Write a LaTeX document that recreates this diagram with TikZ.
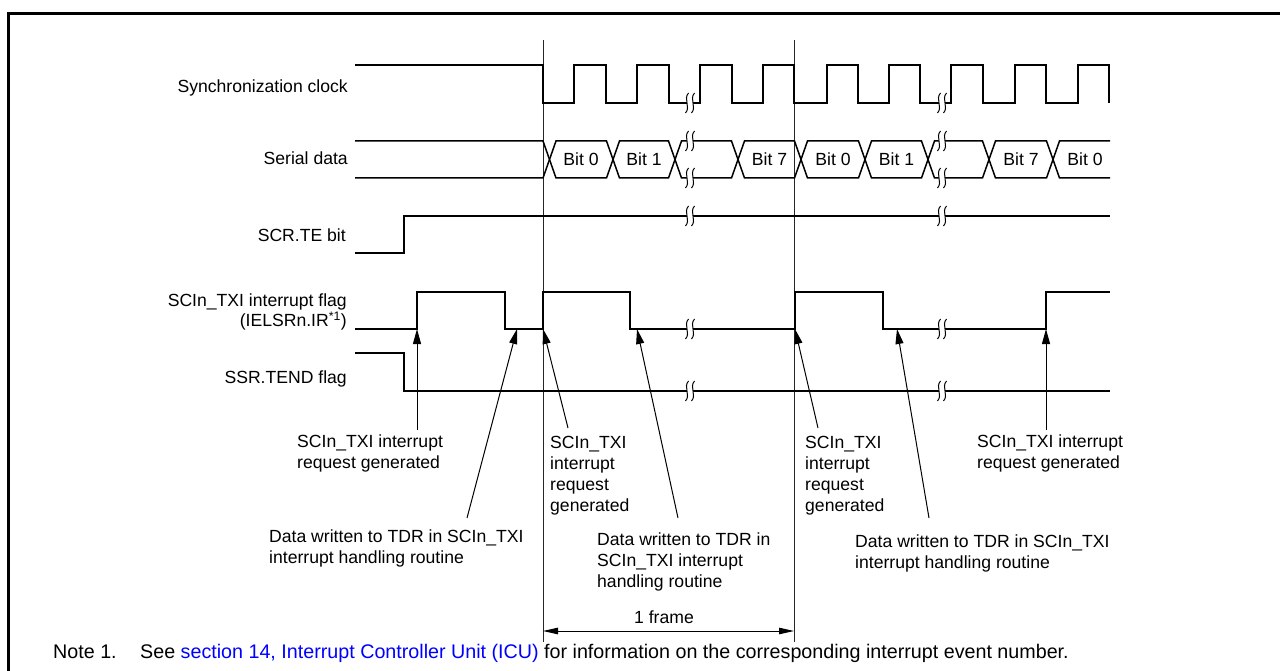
\documentclass[tikz,border=0pt]{standalone}
\usepackage{fontspec}
\setmainfont{Liberation Sans}
\usetikzlibrary{arrows.meta}
\begin{document}
\begin{tikzpicture}[x=1pt,y=-1pt,
  font=\fontsize{17.6}{21}\selectfont,
  sig/.style={line width=1.5pt, line join=miter},
  guide/.style={line width=1pt, black!85},
  arr/.style={line width=1pt, -{Triangle[length=15pt,width=8pt]}},
  frm/.style={line width=1pt, {Triangle[length=15pt,width=6.5pt]}-{Triangle[length=15pt,width=6.5pt]}},
  lbl/.style={inner sep=0pt},
  notefont/.style={font=\fontsize{19.7}{24}\selectfont},
  brk/.pic={
    \fill[white] (-1.5,-10) .. controls (-7,-4) and (1,4) .. (-4.5,10) -- (1.5,10) .. controls (7,4) and (-1,-4) .. (4.5,-10) -- cycle;
    \draw[line width=1pt] (-1.5,-10) .. controls (-7,-4) and (1,4) .. (-4.5,10);
    \draw[line width=1pt] (4.5,-10) .. controls (-1,-4) and (7,4) .. (1.5,10);
  }]
\useasboundingbox (0,0) rectangle (1280,671);
% frame
\draw[line width=3pt] (8.7,671) -- (8.7,13.7) -- (1280,13.7);

% frame guide lines
\coordinate (g1t) at (543,40);
\coordinate (g1b) at (543,642);
\coordinate (g2t) at (794,40);
\coordinate (g2b) at (794,642);
\draw[guide] (g1t) -- (g1b);
\draw[guide] (g2t) -- (g2b);

% left labels
\node[lbl, anchor=base east] (lclk) at (348,93) {Synchronization clock};
\node[lbl, anchor=base east] (ldata) at (348,165) {Serial data};
\node[lbl, anchor=base east] (lte) at (346,242) {SCR.TE bit};
\node[lbl, anchor=north east, align=right] (ltxi) at (347,294) {SCIn\_TXI interrupt flag\\[-1pt](IELSRn.IR\textsuperscript{*1})};
\node[lbl, anchor=base east] (ltend) at (347,383) {SSR.TEND flag};

% synchronization clock
\draw[sig] (355,65) -- (543,65) -- (543,103) -- (574,103) -- (574,65) -- (606,65) -- (606,103)
  -- (637,103) -- (637,65) -- (669,65) -- (669,103) -- (700,103) -- (700,65) -- (732,65)
  -- (732,103) -- (763,103) -- (763,65) -- (794,65) -- (794,103) -- (827,103) -- (827,65)
  -- (858,65) -- (858,103) -- (889,103) -- (889,65) -- (920,65) -- (920,103) -- (951,103)
  -- (951,65) -- (983,65) -- (983,103) -- (1015,103) -- (1015,65) -- (1046,65) -- (1046,103)
  -- (1078,103) -- (1078,65) -- (1109,65) -- (1109,103);
\pic at (690,103) {brk};
\pic at (942,103) {brk};

% serial data
\def\T{141}\def\B{178}\def\M{159.5}\def\h{6.5}
\draw[sig] (355,\T) -- (543,\T) -- (549.5,\M) -- (543,\B) -- (355,\B);
\foreach \a/\b in {549.5/613, 613/675, 675/738, 738/801, 801/865, 865/928, 928/989, 989/1053}{
  \draw[sig] (\a,\M) -- (\a+\h,\T) -- (\b-\h,\T) -- (\b,\M) -- (\b-\h,\B) -- (\a+\h,\B) -- cycle;
}
\draw[sig] (1110,\T) -- (1059.5,\T) -- (1053,\M) -- (1059.5,\B) -- (1110,\B);
\pic at (690,\T) {brk};
\pic at (690,\B) {brk};
\pic at (942,\T) {brk};
\pic at (942,\B) {brk};
\node[lbl, anchor=base] (b1) at (581,166) {Bit 0};
\node[lbl, anchor=base] (b2) at (644,166) {Bit 1};
\node[lbl, anchor=base] (b3) at (769.5,166) {Bit 7};
\node[lbl, anchor=base] (b4) at (833,166) {Bit 0};
\node[lbl, anchor=base] (b5) at (896.5,166) {Bit 1};
\node[lbl, anchor=base] (b6) at (1021,166) {Bit 7};
\node[lbl, anchor=base] (b7) at (1085,166) {Bit 0};

% SCR.TE
\draw[sig] (355,253) -- (404,253) -- (404,216) -- (1110,216);
\pic at (690,216) {brk};
\pic at (942,216) {brk};

% TXI flag
\draw[sig] (355,329) -- (417,329) -- (417,292) -- (505,292) -- (505,329) -- (543,329) -- (543,292)
  -- (630,292) -- (630,329) -- (795,329) -- (795,292) -- (883,292) -- (883,329) -- (1046,329)
  -- (1046,292) -- (1110,292);
\pic at (690,329) {brk};
\pic at (942,329) {brk};

% TEND
\draw[sig] (355,353) -- (404,353) -- (404,391) -- (1110,391);
\pic at (690,391) {brk};
\pic at (942,391) {brk};

% annotations
\node[lbl, anchor=north west, align=left] (a1) at (297,434.5) {SCIn\_TXI interrupt\\request generated};
\node[lbl, anchor=north west, align=left] (a2) at (269,529.5) {Data written to TDR in SCIn\_TXI\\interrupt handling routine};
\node[lbl, anchor=north west, align=left] (a3) at (550,436.5) {SCIn\_TXI\\interrupt\\request\\generated};
\node[lbl, anchor=north west, align=left] (a4) at (597,532.5) {Data written to TDR in\\SCIn\_TXI interrupt\\handling routine};
\node[lbl, anchor=north west, align=left] (a5) at (805,436.5) {SCIn\_TXI\\interrupt\\request\\generated};
\node[lbl, anchor=north west, align=left] (a6) at (855,534.5) {Data written to TDR in SCIn\_TXI\\interrupt handling routine};
\node[lbl, anchor=north west, align=left] (a7) at (977,434.5) {SCIn\_TXI interrupt\\request generated};

\coordinate (t1) at (417,430);  \coordinate (h1) at (417,329);
\coordinate (t2) at (467,518);  \coordinate (h2) at (517,329);
\coordinate (t3) at (568,428);  \coordinate (h3) at (543,329);
\coordinate (t4) at (678,518);  \coordinate (h4) at (637,329);
\coordinate (t5) at (818,428);  \coordinate (h5) at (795,329);
\coordinate (t6) at (929,518);  \coordinate (h6) at (897,329);
\coordinate (t7) at (1046,430); \coordinate (h7) at (1046,329);
\foreach \i in {1,...,7}{ \draw[arr] (t\i) -- (h\i); }

% 1 frame
\coordinate (fl) at (543,631);
\coordinate (fr) at (794,631);
\draw[frm] (fl) -- (fr);
\node[lbl, anchor=base] (flab) at (664,623) {1 frame};

% note
\node[lbl, notefont, anchor=base west] (n1) at (53,658) {Note 1.};
\node[lbl, notefont, anchor=base west] (n2) at (140,658) {See \textcolor{blue}{section 14, Interrupt Controller Unit (ICU)} for information on the corresponding interrupt event number.};
\end{tikzpicture}
\end{document}
